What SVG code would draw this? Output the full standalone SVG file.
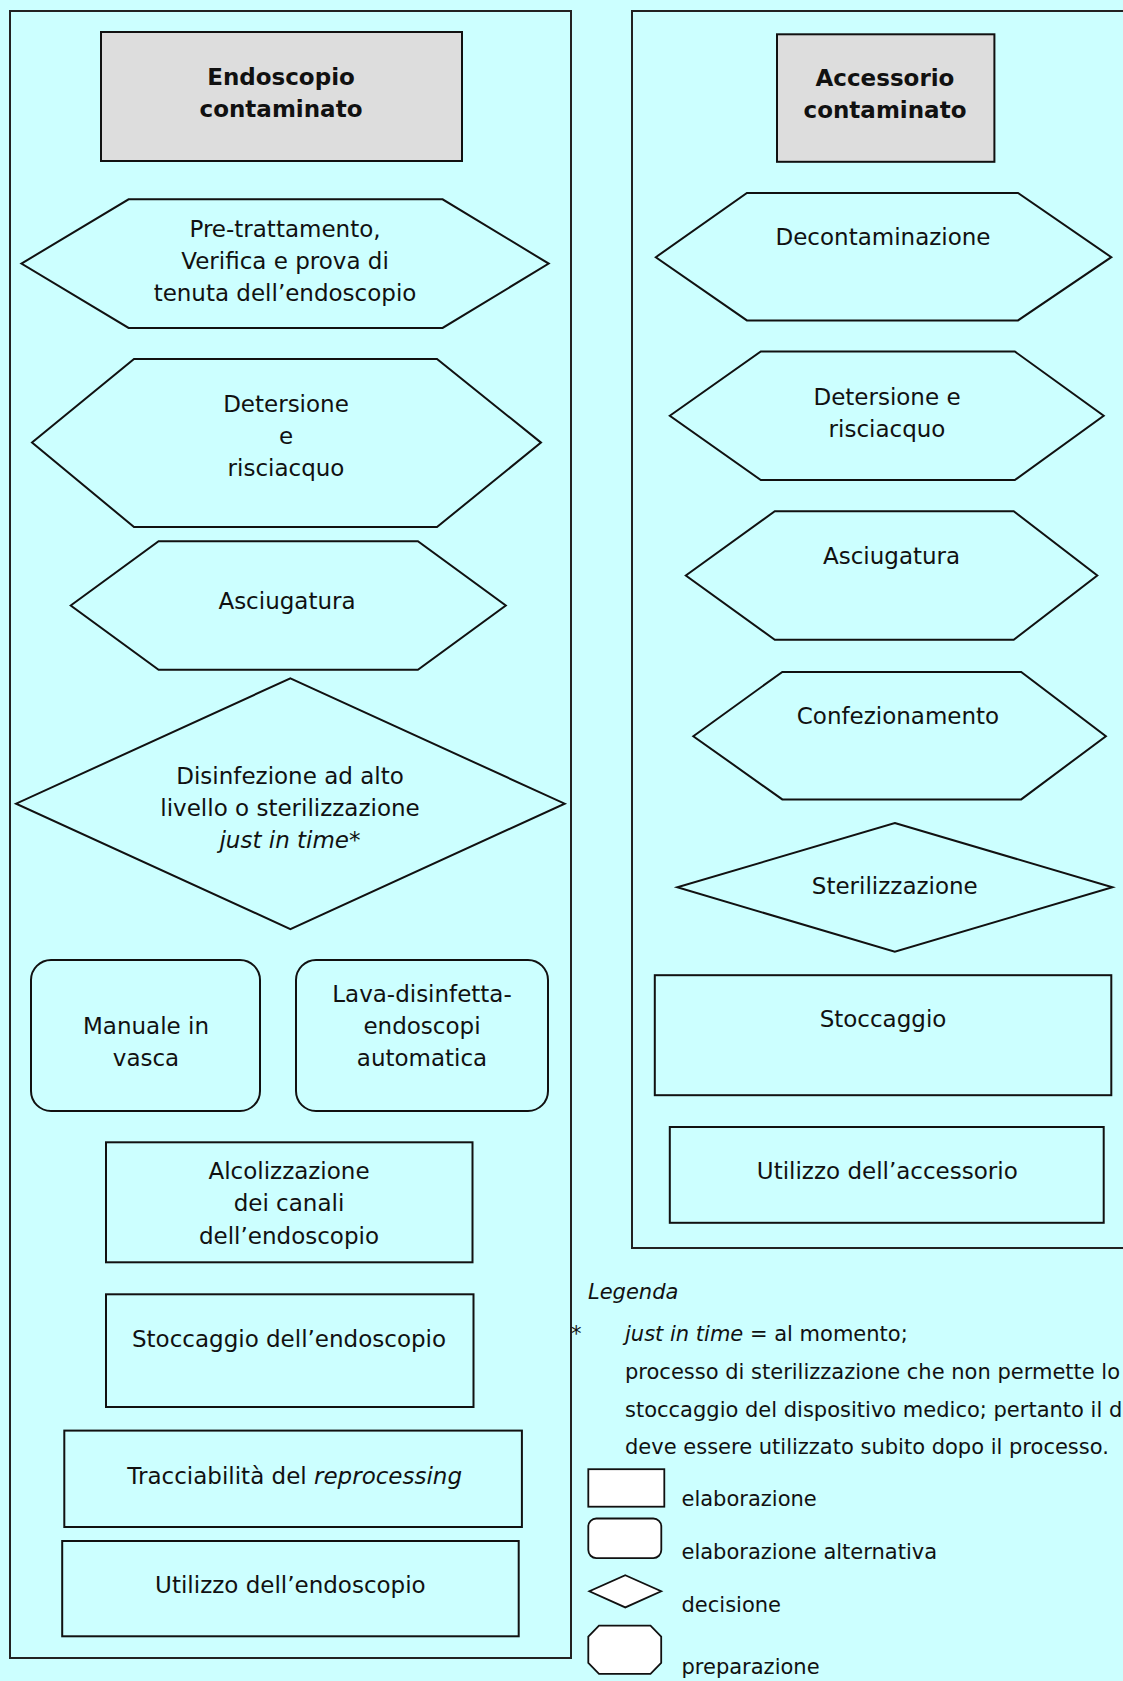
<svg xmlns="http://www.w3.org/2000/svg" width="1123" height="1681" viewBox="0 0 1123 1681">
<style>
.bg{fill:#CCFFFF}
.panel{fill:none;stroke:#222;stroke-width:2}
.shape{fill:none;stroke:#111;stroke-width:2}
.title{fill:#DDDDDD;stroke:#111;stroke-width:2}
.leg{fill:#FFFFFF;stroke:#111;stroke-width:1.8}
text{font-family:"DejaVu Sans","Liberation Sans",sans-serif;fill:#111}
.t{font-size:23px;text-anchor:middle}
.b{font-weight:bold}
.l{font-size:21px}
.i{font-style:italic}
</style>
<rect class="bg" x="0" y="0" width="1123" height="1681"/>
<g id="panel-endoscopio"><rect class="panel" x="10" y="11" width="561" height="1647"/></g>
<g id="panel-accessorio"><rect class="panel" x="632" y="11" width="520" height="1237"/></g>
<g id="connectors"></g>

<g id="n-endoscopio-contaminato">
<rect class="title" x="101" y="32" width="361" height="129"/>
<text class="t b" x="281" y="85">Endoscopio</text>
<text class="t b" x="281" y="117">contaminato</text>
</g>
<g id="n-pretrattamento">
<polygon class="shape" points="21.4,263.6 128.6,199.3 442.6,199.3 548.7,263.6 442.6,327.9 128.6,327.9"/>
<text class="t" x="285" y="237">Pre-trattamento,</text>
<text class="t" x="285" y="269">Verifica e prova di</text>
<text class="t" x="285" y="301">tenuta dell’endoscopio</text>
</g>
<g id="n-detersione">
<polygon class="shape" points="32,442.6 134,359 437,359 541,442.6 437,527 134,527"/>
<text class="t" x="286" y="412">Detersione</text>
<text class="t" x="286" y="444">e</text>
<text class="t" x="286" y="476">risciacquo</text>
</g>
<g id="n-asciugatura">
<polygon class="shape" points="70.7,605.5 158.6,541.2 417.9,541.2 505.8,605.5 417.9,669.8 158.6,669.8"/>
<text class="t" x="287" y="609">Asciugatura</text>
</g>
<g id="n-disinfezione">
<polygon class="shape" points="290.4,678.3 564.7,803.7 290.4,929.1 16.1,803.7"/>
<text class="t" x="290" y="784">Disinfezione ad alto</text>
<text class="t" x="290" y="816">livello o sterilizzazione</text>
<text class="t" x="290" y="848"><tspan class="i">just in time</tspan>*</text>
</g>
<g id="n-manuale">
<rect class="shape" x="31" y="960" width="229" height="151" rx="20"/>
<text class="t" x="146" y="1033.5">Manuale in</text>
<text class="t" x="146" y="1065.5">vasca</text>
</g>
<g id="n-lava">
<rect class="shape" x="296" y="960" width="252" height="151" rx="20"/>
<text class="t" x="422" y="1001.5">Lava-disinfetta-</text>
<text class="t" x="422" y="1033.5">endoscopi</text>
<text class="t" x="422" y="1065.5">automatica</text>
</g>
<g id="n-alcolizzazione">
<rect class="shape" x="106" y="1142.3" width="366.5" height="120"/>
<text class="t" x="289" y="1179">Alcolizzazione</text>
<text class="t" x="289" y="1211">dei canali</text>
<text class="t" x="289" y="1243.5">dell’endoscopio</text>
</g>
<g id="n-stoccaggio-endo">
<rect class="shape" x="106" y="1294.3" width="367.5" height="112.7"/>
<text class="t" x="289" y="1346.5">Stoccaggio dell’endoscopio</text>
</g>
<g id="n-tracciabilita">
<rect class="shape" x="64.3" y="1430.6" width="457.6" height="96.4"/>
<text class="t" x="294.7" y="1483.5">Tracciabilità del <tspan class="i">reprocessing</tspan></text>
</g>
<g id="n-utilizzo-endo">
<rect class="shape" x="62.2" y="1541" width="456.5" height="95.3"/>
<text class="t" x="290.4" y="1593">Utilizzo dell’endoscopio</text>
</g>

<g id="n-accessorio-contaminato">
<rect class="title" x="777" y="34.3" width="217.4" height="127.5"/>
<text class="t b" x="885" y="86">Accessorio</text>
<text class="t b" x="885" y="118">contaminato</text>
</g>
<g id="n-decontaminazione">
<polygon class="shape" points="655.8,257.2 746.9,192.9 1018,192.9 1111.3,257.2 1018,320.4 746.9,320.4"/>
<text class="t" x="883" y="245">Decontaminazione</text>
</g>
<g id="n-detersione-acc">
<polygon class="shape" points="669.8,415.8 760.8,351.5 1014.8,351.5 1103.7,415.8 1014.8,480.1 760.8,480.1"/>
<text class="t" x="887" y="404.5">Detersione e</text>
<text class="t" x="887" y="436.5">risciacquo</text>
</g>
<g id="n-asciugatura-acc">
<polygon class="shape" points="685.8,575.5 774.8,511.2 1013.7,511.2 1097.3,575.5 1013.7,639.7 774.8,639.7"/>
<text class="t" x="891.6" y="564">Asciugatura</text>
</g>
<g id="n-confezionamento">
<polygon class="shape" points="693.3,736.2 782.3,671.9 1021.2,671.9 1105.9,736.2 1021.2,799.4 782.3,799.4"/>
<text class="t" x="898" y="724">Confezionamento</text>
</g>
<g id="n-sterilizzazione">
<polygon class="shape" points="894.8,823 1112.4,887.3 894.8,951.6 677.3,887.3"/>
<text class="t" x="894.8" y="894">Sterilizzazione</text>
</g>
<g id="n-stoccaggio-acc">
<rect class="shape" x="654.8" y="975.2" width="456.5" height="120"/>
<text class="t" x="883" y="1027">Stoccaggio</text>
</g>
<g id="n-utilizzo-acc">
<rect class="shape" x="669.8" y="1127" width="433.9" height="95.8"/>
<text class="t" x="887.3" y="1179">Utilizzo dell’accessorio</text>
</g>

<g id="legend">
<text class="l i" x="588" y="1299">Legenda</text>
<text class="l" x="571" y="1341">*</text>
<text class="l" x="625" y="1341"><tspan class="i">just in time</tspan> = al momento;</text>
<text class="l" x="625" y="1379">processo di sterilizzazione che non permette lo</text>
<text class="l" x="625" y="1416.5">stoccaggio del dispositivo medico; pertanto il di</text>
<text class="l" x="625" y="1454">deve essere utilizzato subito dopo il processo.</text>
<rect class="leg" x="588.3" y="1469.2" width="76" height="37.5"/>
<rect class="leg" x="588.3" y="1518.5" width="73" height="39.6" rx="8"/>
<polygon class="leg" points="625.3,1575.3 661.2,1591.3 625.3,1607.4 589.4,1591.3"/>
<polygon class="leg" points="599,1625.6 650.5,1625.6 661.2,1636.5 661.2,1663 650.5,1673.8 599,1673.8 588.3,1663 588.3,1636.5"/>
<text class="l" x="681.5" y="1506">elaborazione</text>
<text class="l" x="681.5" y="1559">elaborazione alternativa</text>
<text class="l" x="681.5" y="1612">decisione</text>
<text class="l" x="681.5" y="1674">preparazione</text>
</g>
</svg>
